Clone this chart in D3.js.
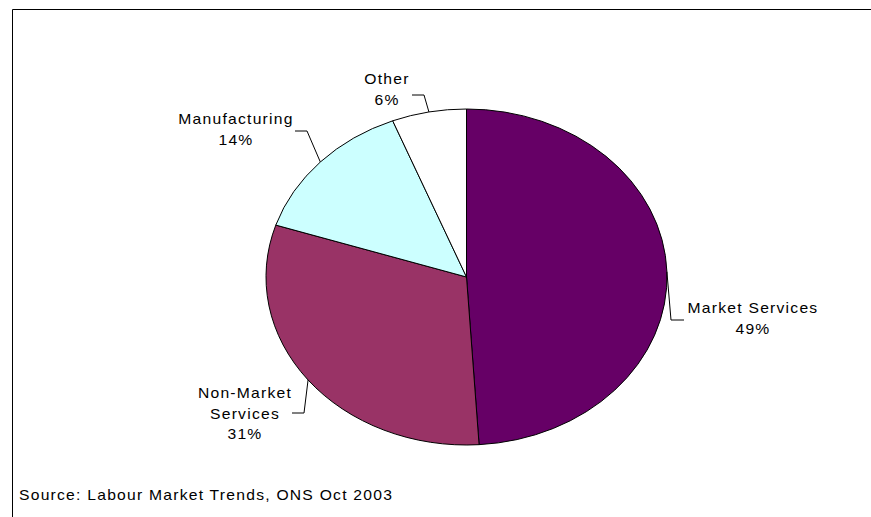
<!DOCTYPE html>
<html>
<head>
<meta charset="utf-8">
<script src="https://cdn.jsdelivr.net/npm/d3@7"></script>
<style>
  html, body { margin: 0; padding: 0; background: #fff; }
  svg { display: block; }
  text { font-family: "Liberation Sans", Arial, sans-serif; font-size: 14px; fill: #000; letter-spacing: 1.1px; }
</style>
</head>
<body>
<svg id="chart" width="871" height="517"></svg>
<script>
// Employment by sector (share of total, %)
const sectors = ["Market Services", "Non-Market Services", "Manufacturing", "Other"];
const shares = [49, 31, 14, 6];
const colours = ["#660066", "#993366", "#CCFFFF", "#FFFFFF"];
const labelLines = [["Market Services"], ["Non-Market", "Services"], ["Manufacturing"], ["Other"]];
const sourceNote = "Source: Labour Market Trends, ONS Oct 2003";

const W = 871, H = 517;
const svg = d3.select("#chart");

// Plot frame (left and top edges visible)
svg.append("path")
  .attr("d", `M12.5,${H} L12.5,9.5 L${W},9.5`)
  .attr("fill", "none").attr("stroke", "#000").attr("stroke-width", 1);

// Pie geometry: drawn on a unit circle and stretched to an ellipse
const cx = 466.5, cy = 277, rx = 200.5, ry = 168;
const R = 100;
const pie = d3.pie().sort(null).value(d => d.value);
const data = sectors.map((s, i) => ({ name: s, value: shares[i], colour: colours[i], lines: labelLines[i] }));
const arcs = pie(data);
const arc = d3.arc().innerRadius(0).outerRadius(R);

const g = svg.append("g")
  .attr("transform", `translate(${cx},${cy}) scale(${rx / R},${ry / R})`);
g.selectAll("path.slice")
  .data(arcs)
  .join("path")
  .attr("class", "slice")
  .attr("d", arc)
  .attr("fill", d => d.data.colour)
  .attr("stroke", "#000")
  .attr("stroke-width", 1)
  .attr("vector-effect", "non-scaling-stroke");

// Point on the ellipse at the middle of a slice
function midPoint(d) {
  const a = (d.startAngle + d.endAngle) / 2;
  return [cx + rx * Math.sin(a), cy - ry * Math.cos(a)];
}

// Label layout: text centre, first baseline, leader elbow points
const layout = [
  { x: 753, y: 313, elbow: [[671, 320], [684, 320]] },
  { x: 245, y: 398, elbow: [[304, 413], [292, 413]] },
  { x: 236, y: 124, elbow: [[307, 131], [295, 131]] },
  { x: 387, y: 84, elbow: [[424, 95], [412, 95]] }
];
const lineGap = 20.5;
const stretch = 1.12;

arcs.forEach((d, i) => {
  const L = layout[i];
  const pts = [midPoint(d), ...L.elbow];
  svg.append("path")
    .attr("d", d3.line()(pts))
    .attr("fill", "none").attr("stroke", "#000").attr("stroke-width", 1);
  const lines = [...d.data.lines, `${d.data.value}%`];
  lines.forEach((t, k) => {
    svg.append("text")
      .attr("text-anchor", "middle")
      .attr("transform", `translate(${L.x},${L.y + k * lineGap}) scale(${stretch},1)`)
      .text(t);
  });
});

// Source note
svg.append("text")
  .attr("transform", `translate(19,500) scale(${stretch},1)`)
  .text(sourceNote);
</script>
</body>
</html>
